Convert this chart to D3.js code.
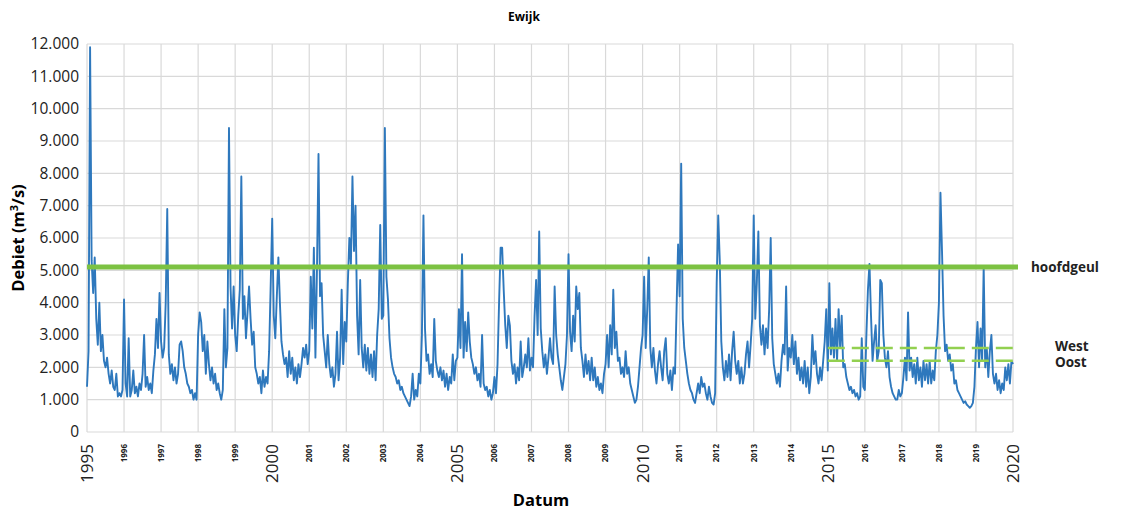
<!DOCTYPE html>
<html>
<head>
<meta charset="utf-8">
<script src="https://cdn.jsdelivr.net/npm/d3@7"></script>
<style>
  body { margin: 0; background: #fff; }
  text { font-family: "Open Sans", "Noto Sans", sans-serif; }
</style>
</head>
<body>
<div id="chart"></div>
<script>
// jaartallen op de x-as
var years = d3.range(1995, 2021);
var majorYears = [1995, 2000, 2005, 2010, 2015, 2020];
var yTicks = d3.range(0, 13000, 1000);

// debiet Ewijk (m3/s), 24 waarden per jaar (halve maanden)
var flow = [
  // 1995
  1400, 2500, 11900, 5300, 4300, 5400, 3500, 2700, 4000, 2500, 3000, 2200, 2000, 2300, 1800, 1500, 1900, 1400, 1300, 1800, 1100, 1200, 1100, 1300,
  // 1996
  4100, 1500, 1100, 2900, 1100, 1300, 1900, 1200, 1400, 1100, 1500, 1300, 1800, 3000, 1400, 1700, 1300, 1500, 1200, 1900, 2400, 3500, 2600, 4300,
  // 1997
  2800, 2300, 2600, 4000, 6900, 2400, 1800, 2100, 1600, 2000, 1500, 1800, 2700, 2800, 2500, 2000, 1800, 1500, 1400, 1200, 1300, 1000, 1200, 1000,
  // 1998
  3000, 3700, 3400, 2500, 3000, 1800, 2800, 2100, 1600, 2000, 1500, 1800, 1300, 1500, 1200, 1000, 1300, 3800, 2000, 2600, 9400, 4500, 3200, 4500,
  // 1999
  3000, 2500, 3600, 4400, 7900, 3500, 4200, 2900, 3700, 4500, 3500, 2700, 3100, 2000, 1800, 1500, 1700, 1200, 1900, 1400, 1700, 1500, 2500, 4500,
  // 2000
  6600, 3600, 2900, 4200, 5400, 4000, 2800, 2400, 2100, 2300, 1700, 2500, 1800, 2300, 1600, 2000, 1500, 2100, 1700, 2100, 2600, 2300, 2700, 2100,
  // 2001
  2500, 4800, 3200, 5700, 2300, 5000, 8600, 4200, 4600, 3000, 2500, 2000, 3000, 2100, 1700, 2000, 1400, 1800, 3100, 1600, 2300, 4400, 2100, 3400,
  // 2002
  2800, 4600, 6000, 5200, 7900, 5600, 7000, 3600, 2400, 4700, 2600, 2000, 2700, 1900, 2600, 1800, 2400, 1700, 2500, 1600, 3000, 3800, 6400, 3500,
  // 2003
  3600, 9400, 4800, 4100, 2900, 2300, 2000, 1800, 1700, 1500, 1600, 1300, 1400, 1200, 1100, 1000, 900, 800, 1100, 1800, 1000, 1300, 1100, 1800,
  // 2004
  1500, 3000, 6700, 3200, 2200, 2400, 1800, 2100, 1700, 3500, 2200, 1900, 1700, 2000, 1600, 1900, 1400, 1800, 1300, 1700, 1500, 2400, 1600, 2200,
  // 2005
  2300, 3800, 2600, 5500, 2300, 3400, 2500, 3700, 2800, 2300, 2100, 1800, 2000, 1600, 1800, 1400, 3000, 1500, 1300, 1400, 1100, 1300, 1000, 1200,
  // 2006
  1700, 1200, 2100, 4000, 5700, 5700, 4400, 3300, 2600, 3600, 3300, 2200, 1800, 2100, 1500, 2000, 1600, 2800, 1700, 2000, 2400, 2000, 2900, 1900,
  // 2007
  2300, 2000, 3600, 4700, 3000, 6200, 3200, 2500, 2000, 2400, 1800, 2300, 2900, 2300, 2100, 4500, 3000, 2400, 2000, 1600, 1300, 1700, 2100, 3000,
  // 2008
  5500, 3100, 2500, 3600, 2800, 4500, 3800, 4300, 2600, 2200, 1700, 2400, 1800, 2200, 1600, 2300, 1600, 2000, 1400, 1700, 1300, 1500, 1200, 1800,
  // 2009
  2100, 3000, 2000, 3300, 2400, 4400, 2600, 3100, 2200, 2300, 1800, 2000, 1700, 2500, 1800, 2000, 1500, 1300, 1100, 900, 1000, 1400, 2000, 2600,
  // 2010
  3000, 4800, 2600, 3800, 5400, 2600, 2000, 2600, 1900, 1500, 2100, 2500, 2000, 1600, 2500, 2900, 1800, 1500, 1900, 1300, 2000, 1800, 3800, 5800,
  // 2011
  4200, 8300, 3500, 2600, 2200, 1800, 1500, 1300, 1200, 1000, 900, 1200, 1500, 1200, 1700, 1400, 1500, 1200, 1000, 1400, 1100, 900, 850, 1200,
  // 2012
  4600, 6700, 5300, 2800, 2000, 1600, 2200, 1700, 2400, 1600, 2500, 3100, 2200, 1800, 2200, 1500, 2000, 1500, 1800, 2400, 2800, 2000, 2700, 3500,
  // 2013
  6700, 3500, 4600, 6200, 3300, 2700, 3300, 2400, 3200, 2600, 3800, 6000, 2900, 2100, 1800, 1500, 1800, 1400, 2200, 2700, 2400, 4500, 1900, 2600,
  // 2014
  2300, 3000, 2100, 2800, 1800, 2300, 1600, 2000, 1500, 2200, 1400, 2000, 1200, 1700, 3000, 2100, 2500, 1800, 1500, 2000, 1600, 2200, 2800, 3800,
  // 2015
  1900, 4600, 2400, 3200, 2300, 3500, 2200, 3800, 2600, 3600, 2000, 2100, 1700, 1500, 1300, 1400, 1200, 1300, 1100, 1200, 1000, 1100, 2900, 1400,
  // 2016
  1300, 3000, 4400, 5200, 3600, 2200, 2800, 3300, 2200, 2500, 4700, 4600, 3000, 2300, 2000, 2500, 1700, 1400, 1200, 1100, 1000, 1000, 1300, 1100,
  // 2017
  1200, 1700, 2300, 1600, 3700, 1900, 2300, 1700, 2100, 1500, 2300, 1600, 2000, 1400, 2200, 1600, 2100, 1500, 2200, 1500, 1900, 1600, 2500, 3000,
  // 2018
  4000, 7400, 5600, 3600, 2500, 2700, 2200, 2400, 1900, 2100, 1500, 1600, 1300, 1200, 1100, 1000, 900, 950, 850, 800, 750, 800, 900, 1400,
  // 2019
  2600, 3400, 2000, 3200, 2200, 5100, 2000, 2600, 1700, 2500, 3000, 1800, 1500, 1800, 1300, 1600, 1200, 1500, 1300, 2000, 1600, 2100, 1500, 2200,
  // 2020
  2100
];
var perYear = 24;

// referentieniveaus
var levels = [
  { name: "hoofdgeul", value: 5100, from: 1995, dashed: false },
  { name: "West", value: 2600, from: 2015, dashed: true },
  { name: "Oost", value: 2200, from: 2015, dashed: true }
];

var width = 1126, height = 515;
var margin = { top: 44, right: 108, bottom: 82, left: 87 };

var svg = d3.select("#chart").append("svg")
  .attr("width", width)
  .attr("height", height);

var x = d3.scaleLinear()
  .domain([1995, 2020])
  .range([margin.left, width - margin.right - 5]);

var y = d3.scaleLinear()
  .domain([0, 12000])
  .range([height - margin.bottom - 1, margin.top]);

var data = flow.map(function(v, i) { return { t: 1995 + i / perYear, v: v }; });

// rasterlijnen
svg.append("g")
  .selectAll("line.h")
  .data(yTicks)
  .enter().append("line")
  .attr("x1", x(1995)).attr("x2", x(2020))
  .attr("y1", function(d) { return y(d); })
  .attr("y2", function(d) { return y(d); })
  .attr("stroke", "#d9d9d9")
  .attr("stroke-width", 1.2);

svg.append("g")
  .selectAll("line.v")
  .data(years)
  .enter().append("line")
  .attr("x1", function(d) { return x(d); })
  .attr("x2", function(d) { return x(d); })
  .attr("y1", y(0)).attr("y2", y(12000))
  .attr("stroke", "#d9d9d9")
  .attr("stroke-width", 1.2);

// y-as labels
svg.append("g")
  .selectAll("text")
  .data(yTicks)
  .enter().append("text")
  .attr("x", x(1995) - 8)
  .attr("y", function(d) { return y(d); })
  .attr("dy", "0.35em")
  .attr("text-anchor", "end")
  .style("font-size", "15.5px")
  .style("fill", "#222")
  .text(function(d) { return d === 0 ? "0" : d3.format(",")(d).replace(/,/g, "."); });

// x-as labels (gedraaid)
svg.append("g")
  .selectAll("text")
  .data(years)
  .enter().append("text")
  .attr("transform", function(d) { return "translate(" + x(d) + "," + (y(0) + 12) + ") rotate(-90)"; })
  .attr("dy", "0.35em")
  .attr("text-anchor", "end")
  .style("font-size", function(d) { return majorYears.indexOf(d) >= 0 ? "17px" : "8px"; })
  .style("font-weight", function(d) { return majorYears.indexOf(d) >= 0 ? "normal" : "bold"; })
  .style("fill", "#222")
  .text(function(d) { return d; });

// debiet lijn
var line = d3.line()
  .x(function(d) { return x(d.t); })
  .y(function(d) { return y(d.v); });

svg.append("path")
  .datum(data)
  .attr("fill", "none")
  .attr("stroke", "#2e78bd")
  .attr("stroke-width", 1.9)
  .attr("stroke-linejoin", "round")
  .attr("d", line);

// niveaus
svg.append("g")
  .selectAll("line")
  .data(levels)
  .enter().append("line")
  .attr("x1", function(d) { return x(d.from); })
  .attr("x2", x(2020) + 5)
  .attr("y1", function(d) { return y(d.value); })
  .attr("y2", function(d) { return y(d.value); })
  .attr("stroke", function(d) { return d.dashed ? "#92d050" : "#7cc242"; })
  .attr("stroke-width", function(d) { return d.dashed ? 2.5 : 5; })
  .attr("stroke-dasharray", function(d) { return d.dashed ? "17,7" : null; });

svg.append("g")
  .selectAll("text")
  .data(levels)
  .enter().append("text")
  .attr("x", function(d) { return d.dashed ? 1055 : 1031; })
  .attr("y", function(d) { return y(d.value) + (d.name === "Oost" ? 1 : d.name === "West" ? -2 : 0); })
  .attr("dy", "0.35em")
  .style("font-size", "13.5px")
  .style("font-weight", "bold")
  .style("fill", "#222")
  .text(function(d) { return d.name; });

// titels
svg.append("text")
  .attr("x", 524).attr("y", 21)
  .attr("text-anchor", "middle")
  .style("font-size", "12px")
  .style("font-weight", "bold")
  .text("Ewijk");

svg.append("text")
  .attr("x", 541).attr("y", 506)
  .attr("text-anchor", "middle")
  .style("font-size", "16.5px")
  .style("font-weight", "bold")
  .text("Datum");

svg.append("text")
  .attr("transform", "translate(24," + 238 + ") rotate(-90)")
  .attr("text-anchor", "middle")
  .style("font-size", "16.5px")
  .style("font-weight", "bold")
  .html("Debiet (m<tspan dy='-6' font-size='11px'>3</tspan><tspan dy='6'>/s)</tspan>");
</script>
</body>
</html>
